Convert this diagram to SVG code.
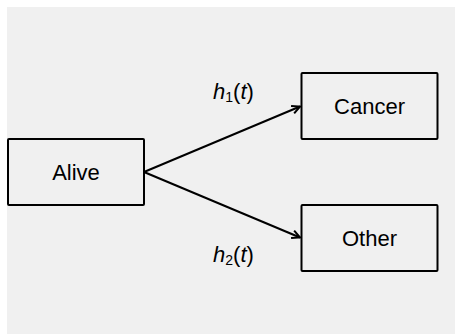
<svg xmlns="http://www.w3.org/2000/svg" width="455" height="334" viewBox="0 0 455 334">
<style>
.box{fill:none;stroke:#000;stroke-width:2}
.lbl{font-family:"Liberation Sans",Arial,sans-serif;font-size:22px;fill:#000;text-anchor:middle}
.math{font-family:"Liberation Sans",Arial,sans-serif;font-size:22px;fill:#000}
.edge{fill:none;stroke:#000;stroke-width:2}
</style>
<defs>
<marker id="arr" viewBox="0 0 10 10" refX="9" refY="5" markerWidth="10" markerHeight="10" markerUnits="userSpaceOnUse" orient="auto">
<path d="M1,1 L9,5 L1,9" fill="none" stroke="#000" stroke-width="2"/>
</marker>
</defs>
<rect x="0" y="0" width="455" height="334" fill="#fff"/>
<rect x="7" y="7" width="448" height="327" fill="#f0f0f0"/>
<g id="connectors">
<line class="edge" x1="144" y1="172" x2="300" y2="106.5" marker-end="url(#arr)"/>
<line class="edge" x1="144" y1="172" x2="300" y2="237.5" marker-end="url(#arr)"/>
<text class="math" x="213" y="99"><tspan font-style="italic">h</tspan><tspan font-size="14" dy="3">1</tspan><tspan dy="-3">(</tspan><tspan font-style="italic">t</tspan><tspan>)</tspan></text>
<text class="math" x="213" y="262"><tspan font-style="italic">h</tspan><tspan font-size="14" dy="3">2</tspan><tspan dy="-3">(</tspan><tspan font-style="italic">t</tspan><tspan>)</tspan></text>
</g>
<g id="alive">
<rect class="box" x="8" y="139" width="136" height="66" rx="1"/>
<text class="lbl" x="76" y="180">Alive</text>
</g>
<g id="cancer">
<rect class="box" x="301.5" y="73" width="136" height="66" rx="1"/>
<text class="lbl" x="369.5" y="114">Cancer</text>
</g>
<g id="other">
<rect class="box" x="301.5" y="205" width="136" height="66" rx="1"/>
<text class="lbl" x="369.5" y="246">Other</text>
</g>
</svg>
